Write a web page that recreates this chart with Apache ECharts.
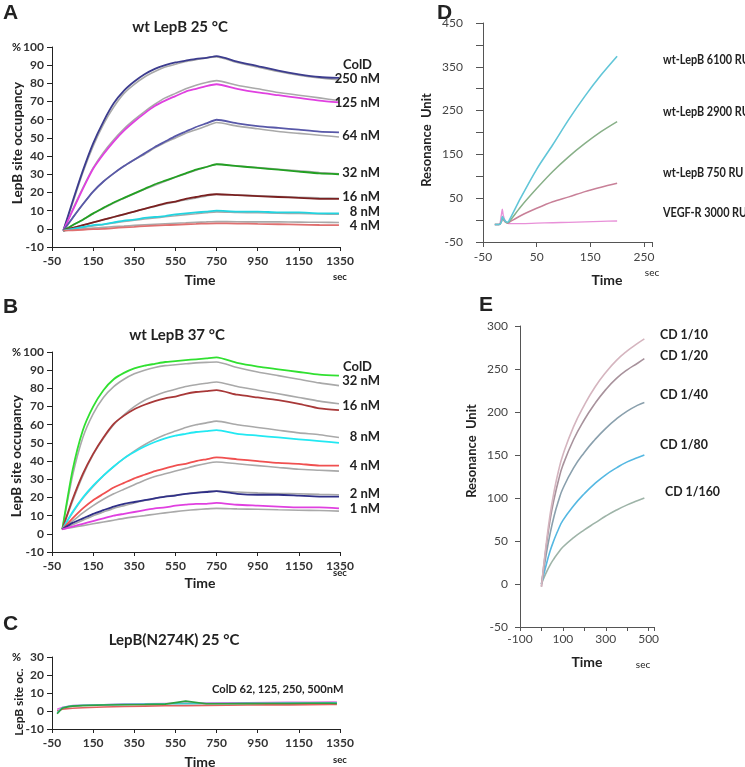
<!DOCTYPE html>
<html><head><meta charset="utf-8">
<script src="https://cdn.jsdelivr.net/npm/echarts@6/dist/echarts.min.js"></script>
<style>html,body{margin:0;padding:0;background:#fff}#c{width:745px;height:767px}</style>
</head><body><div id="c"></div>
<script>
// ---------- Panel A: wt LepB 25 °C ----------
const timesA = [5,50,100,150,200,250,300,350,400,450,500,550,600,650,700,750,850,950,1050,1150,1250,1345];
const a250    = [-1,15,32,47,59,69,76,81,85,88,90,91.5,92.5,93.5,94,95,92,89.5,87,85,83.5,83];
const a250fit = [-1,14,31,45.5,57.5,67,74.5,79.5,83.5,86.5,89,90.5,92,93,94,94.5,91.5,89,86.5,84.5,83,82];
const a125    = [-1,10,22,33,41,48,54,59,63.5,67.5,70.5,73,75.5,77,78.5,79.5,77,75,73.5,72,70.5,69.5];
const a125fit = [-1,10.5,22.5,33.5,42,49,55,60,64.5,68.5,72,74.5,77,79,80.5,81.5,79,77,75,73.5,72,70.5];
const a64     = [-1,6,13.5,20.5,26,30.5,34.5,38,41.5,45,48,51,53.5,56,58,60,58,56.5,55.5,54.5,53.5,53];
const a64fit  = [-1,6,13.5,20.5,26,30.5,34.5,38,41,44.5,47.5,50,52.5,54.5,56.5,58.5,56.5,55,53.5,52.5,51.5,50.5];
const a32     = [-1,2,5,8.5,11.5,14.5,17,19.5,22,24.5,26.5,28.5,30.5,32.5,34,35.5,34.5,33.5,32.5,31.5,30.5,30];
const a32fit  = [-1,2,5,8.3,11.3,14.2,16.8,19.3,21.7,24,26.2,28.3,30.3,32.2,34,35.5,34.6,33.7,32.8,31.9,31,30.3];
const a16     = [-1,0.5,2,3.5,5,6.5,8,9.5,11,12.5,14,15,16.5,17.5,18.5,19,18.5,18,17.5,17,16.5,16.5];
const a16fit  = [-1,0.5,2,3.5,5,6.5,8,9.5,11,12.3,13.6,14.8,16,17,18,19,18.6,18.2,17.8,17.4,17,16.8];
const a8      = [-1,0,1,2,2.5,3.5,4.5,5,6,6.5,7,8,8.5,9,9.5,10,9.5,9.5,9,9,8.5,8.5];
const a8fit   = [-1,0,0.8,1.6,2.4,3.2,4,4.7,5.4,6,6.6,7.2,7.8,8.3,8.8,9.3,9,8.8,8.6,8.4,8.2,8];
const a4      = [-1,-0.8,-0.5,-0.2,0,0.4,0.8,1.1,1.5,1.8,2,2.2,2.5,2.7,2.9,3,2.9,2.7,2.5,2.3,2.1,2];
const a4fit   = [-1,-0.5,0,0.4,0.8,1.2,1.5,1.9,2.2,2.5,2.8,3.1,3.3,3.6,3.8,4,3.9,3.8,3.8,3.7,3.6,3.5];
const labelsA = ['ColD','250 nM','125 nM','64 nM','32 nM','16 nM','8 nM','4 nM'];

// ---------- Panel B: wt LepB 37 °C ----------
const timesB = [0,50,100,150,200,250,300,350,400,450,500,550,600,650,700,750,850,950,1050,1150,1250,1345];
const b32    = [2.5,35,57,70,79,85,88.5,91,92.5,93.5,94.5,95,95.5,96,96.5,97,94,92,90.5,89,87.5,87];
const b32fit = [2.5,32,53,66,75,81,85,88,90,91.5,92.5,93,93.5,94,94.3,94.5,91.5,89,87,85,83,81.5];
const b16    = [2.5,19,33,44,53,60.5,65,68.5,71,73,74.5,75.5,77,78,78.5,79,76.5,75,73.5,71.5,69,68];
const b16fit = [2.5,18,32,43.5,52.5,60,65.5,70,73.5,76,78,79.5,81,82,82.8,83.5,81,79,77,75,73,71.5];
const b8     = [2.5,12,20,26.5,32,37,41.5,45,48,50.5,52.5,54,55,56,56.5,57,55,54,53,52,51,50];
const b8fit  = [2.5,11.5,19.5,26,32,37,41.5,45.5,49,52,54.5,56.5,58.5,60,61,62,60,58.5,57,55.5,54.5,53];
const b4     = [2.5,8.5,14,18.5,22,25.5,28,30.5,32.5,34.5,36,37.5,38.5,40,41,42,41,40,39,38.5,37.5,37.5];
const b4fit  = [2.5,7,11.5,15.5,19,22,24.5,27,29.5,31.5,33,34.5,36,37.5,38.7,39.5,38.5,37.5,36.5,35.5,35,34.5];
const b2     = [2.5,6,8.5,11,13,15,16.5,17.5,18.5,19.5,20.5,21,22,22.5,23,23.5,22,21.5,21.5,21,20.5,20.5];
const b2fit  = [2.5,5,7.5,10,12,14,15.5,17,18.3,19.5,20.5,21.3,22,22.7,23.2,23.5,23,22.5,22.2,22,21.7,21.5];
const b1     = [2.5,4,5.5,7,8.5,10,11,12,13,14,14.5,15.5,16,16.5,16.5,17,16,15.5,15,14.5,14.5,14];
const b1fit  = [2.5,3.5,4.5,5.5,6.5,7.5,8.5,9.3,10,10.8,11.5,12.2,12.8,13.3,13.7,14,13.7,13.5,13.2,13,12.8,12.5];
const labelsB = ['ColD','32 nM','16 nM','8 nM','4 nM','2 nM','1 nM'];

// ---------- Panel C: LepB(N274K) 25 °C ----------
const timesC = [-25,0,25,50,100,200,300,400,500,600,700,800,900,1000,1100,1200,1300,1335];
const c500 = [1,2,2.5,3,3.2,3.5,3.8,4,4.2,4.3,4.4,4.5,4.6,4.7,4.8,4.9,5,5];
const c250 = [-1.5,1.5,2.3,2.7,3,3.3,3.5,3.6,3.8,5.5,4,4,4.1,4.2,4.2,4.3,4.3,4.2];
const c125 = [0,1,1.3,1.5,1.8,2.2,2.5,2.7,2.9,3,3.1,3.2,3.3,3.4,3.4,3.5,3.6,3.6];
const c62  = [-1,1.8,2.5,2.9,3.2,3.5,3.7,3.9,4,4.1,4.2,4.2,4.3,4.3,4.4,4.4,4.5,4.5];
const labelC = 'ColD 62, 125, 250, 500nM';

// ---------- Panel D ----------
const timesD = [-28,-20,-16,-14,-12,-8,-4,0,20,50,80,110,140,170,200];
const d6100 = [-10,-10,-5,8,4,-3,-5,2,50,116,172,230,283,331,374];
const d2900 = [-10,-10,-5,6,3,-4,-6,-2,30,72,111,145,175,202,225];
const d750  = [-10,-10,-4,3,1,-5,-7,-4,10,27,42,53,65,75,84];
const dVegf = [-10,-10,10,25,10,-3,-7,-8,-8,-7,-6,-5,-4,-3,-2];
const labelsD = ['wt-LepB 6100 RU','wt-LepB 2900 RU','wt-LepB 750 RU','VEGF-R 3000 RU'];

// ---------- Panel E ----------
const timesE = [0,20,40,60,80,100,150,200,250,300,350,400,450,480];
const e10  = [-3,42,80,109,132,150,183,208,229,246,260,271,280,285];
const e20  = [-3,39,74,100,121,138,168,191,210,226,239,249,257,262];
const e40  = [0,31,58,80,97,111,135,153,168,181,192,201,208,211];
const e80  = [0,20,38,52,64,74,91,105,117,127,135,142,147,150];
const e160 = [0,12,22,30,37,43,54,63,71,79,86,92,97,100];
const labelsE = ['CD 1/10','CD 1/20','CD 1/40','CD 1/80','CD 1/160'];

// tick label lists
const ticksDx = [-50,50,150,250];
const ticksEx = [-100,100,300,500];

const chart = echarts.init(document.getElementById('c'), null, {renderer:'canvas'});
const pairs = (xs, ys) => xs.map((x,i)=>[x, ys[i]]);
function ln(xs, ys, color, width, gi, z, smooth){
  return {type:'line', data:pairs(xs,ys), xAxisIndex:gi, yAxisIndex:gi, showSymbol:false, symbol:'none',
    smooth: smooth===undefined ? 0.2 : smooth,
    lineStyle:{color, width}, itemStyle:{color}, z: z||2, animation:false, silent:true, clip:false};
}
const FONT = 'Lato';
const plain = v => String(v);
function axLabel(extra){ return Object.assign({fontFamily:FONT, fontWeight:'bold', fontSize:12, color:'#333', margin:8, formatter:plain}, extra||{}); }
const blk = {lineStyle:{color:'#222', width:1}};
function xAx(gi, min, max, interval, extra){
  return Object.assign({type:'value', gridIndex:gi, min, max, interval, axisLine:Object.assign({onZero:false}, blk),
    axisTick:{show:true, length:4, lineStyle:{color:'#222'}}, splitLine:{show:false}, axisLabel:axLabel()}, extra||{});
}
function yAx(gi, min, max, interval, extra){
  return Object.assign({type:'value', gridIndex:gi, min, max, interval, axisLine:Object.assign({onZero:false}, blk),
    axisTick:{show:true, length:5, lineStyle:{color:'#222'}}, splitLine:{show:false}, axisLabel:axLabel()}, extra||{});
}
function txt(text, x, y, o){
  o = o || {};
  const font = (o.weight||'bold') + ' ' + (o.size||13) + 'px ' + (o.family||FONT);
  return {type:'text', x, y, rotation:o.rot||0, scaleX:o.sx||1, silent:true, z:100,
    style:{text, fill:o.color||'#222', font, align:o.align||'left', textAlign:o.align||'left',
      verticalAlign:'middle', textVerticalAlign:'middle'}};
}

const grey = '#a9a9a9';
const series = [
  // A fits
  ln(timesA,a250fit,grey,1.6,0,1), ln(timesA,a125fit,grey,1.6,0,1), ln(timesA,a64fit,grey,1.6,0,1),
  ln(timesA,a32fit,grey,1.6,0,1), ln(timesA,a16fit,grey,1.6,0,1), ln(timesA,a8fit,grey,1.6,0,1), ln(timesA,a4fit,grey,1.6,0,1),
  // A data
  ln(timesA,a250,'#3c3c8e',1.8,0), ln(timesA,a125,'#e040e0',1.8,0), ln(timesA,a64,'#5858a8',1.8,0),
  ln(timesA,a32,'#22a022',1.8,0), ln(timesA,a16,'#7a2020',1.8,0), ln(timesA,a8,'#22d4e0',1.8,0), ln(timesA,a4,'#e07070',1.8,0),
  // B fits
  ln(timesB,b32fit,grey,1.6,1,1), ln(timesB,b16fit,grey,1.6,1,1), ln(timesB,b8fit,grey,1.6,1,1),
  ln(timesB,b4fit,grey,1.6,1,1), ln(timesB,b2fit,grey,1.6,1,1), ln(timesB,b1fit,grey,1.6,1,1),
  // B data
  ln(timesB,b32,'#30e030',1.8,1), ln(timesB,b16,'#a83838',1.8,1), ln(timesB,b8,'#22e8f2',1.8,1),
  ln(timesB,b4,'#f05050',1.8,1), ln(timesB,b2,'#303088',1.8,1), ln(timesB,b1,'#e040e0',1.8,1),
  // C
  ln(timesC,c125,'#e06060',1.6,2,2,0), ln(timesC,c500,'#e070e0',1.6,2,2,0), ln(timesC,c62,'#40c8c8',1.6,2,2,0), ln(timesC,c250,'#30a040',1.6,2,2,0),
  // D
  ln(timesD,dVegf,'#e890d8',1.3,3,2,0.3), ln(timesD,d750,'#c88098',1.5,3,2,0.3), ln(timesD,d2900,'#88b088',1.5,3,2,0.3), ln(timesD,d6100,'#62c6d8',1.6,3,2,0.3),
  // E
  ln(timesE,e160,'#9eb4a8',1.6,4,2,0.5), ln(timesE,e80,'#55b8e2',1.6,4,2,0.5), ln(timesE,e40,'#8aa0ad',1.6,4,2,0.5), ln(timesE,e20,'#a8929c',1.6,4,2,0.5), ln(timesE,e10,'#d5b5bf',1.6,4,2,0.5)
];

const g = [];
// panel letters
[['A',3,13],['B',3,307],['C',3,624],['D',437,13],['E',479,305]].forEach(p=>g.push(txt(p[0],p[1],p[2],{size:21,family:'Liberation Sans'})));
// titles
g.push(txt('wt LepB 25 °C',180,27,{size:15,align:'center'}));
g.push(txt('wt LepB 37 °C',177,335,{size:15,align:'center'}));
g.push(txt('LepB(N274K) 25 °C',174,640,{size:15,align:'center'}));
// y names
g.push(txt('LepB site occupancy',18,143,{size:13.5,align:'center',rot:Math.PI/2}));
g.push(txt('LepB site occupancy',17,456,{size:13.5,align:'center',rot:Math.PI/2}));
g.push(txt('LepB site oc.',19,702,{size:12,align:'center',rot:Math.PI/2}));
g.push(txt('Resonance  Unit',427,140,{size:13,align:'center',rot:Math.PI/2}));
g.push(txt('Resonance  Unit',472,451,{size:13,align:'center',rot:Math.PI/2}));
// % signs
[47,352,657].forEach(y=>g.push(txt('%',12,y,{size:11})));
// Time / sec
[[200,280,340,277],[200,583,340,573],[200,762,340,760]].forEach(p=>{
  g.push(txt('Time',p[0],p[1],{size:14,align:'center'}));
  g.push(txt('sec',p[2],p[3],{size:9.5,align:'center'}));
});
g.push(txt('Time',607,280,{size:14,align:'center'}));
g.push(txt('sec',652,273,{size:10,align:'center',weight:'normal'}));
g.push(txt('Time',587,662,{size:14,align:'center'}));
g.push(txt('sec',643,665,{size:10,align:'center',weight:'normal'}));
// legends A
const yA = [65,79,103,136,173,197,212,226];
labelsA.forEach((t,i)=>g.push(txt(t, i===0?372:380, yA[i], {size:13, align:'right'})));
const yB = [367,381,406,437,466,494,509];
labelsB.forEach((t,i)=>g.push(txt(t, i===0?372:380, yB[i], {size:13, align:'right'})));
g.push(txt(labelC,212,689,{size:12,sx:0.93}));
const yD = [60,112,173,213];
labelsD.forEach((t,i)=>g.push(txt(t,663,yD[i],{size:12.5,sx:0.87})));
const yE = [335,356,395,445,492]; const xE=[660,660,660,660,665];
labelsE.forEach((t,i)=>g.push(txt(t,xE[i],yE[i],{size:13,sx:0.95})));

const grayAx = {lineStyle:{color:'#555', width:1}};
const option = {
  animation:false,
  backgroundColor:'#fff',
  grid:[
    {left:52, top:47, width:288, height:200},
    {left:52, top:352, width:288, height:200},
    {left:52, top:657, width:288, height:72},
    {left:483, top:23, width:169, height:219},
    {left:520, top:326, width:134, height:301}
  ],
  xAxis:[
    xAx(0,-50,1350,200),
    xAx(1,-50,1350,200),
    xAx(2,-50,1350,200),
    xAx(3,-50,265,100,{axisLine:Object.assign({onZero:false},grayAx), axisTick:{length:5,lineStyle:{color:'#555'}},
      axisLabel:{fontFamily:FONT, fontSize:12, color:'#444', margin:9, formatter:v=>ticksDx.includes(v)?String(v):''}}),
    xAx(4,-100,525,100,{axisLine:Object.assign({onZero:false},grayAx), axisTick:{length:4,lineStyle:{color:'#555'}},
      axisLabel:{fontFamily:FONT, fontSize:12, color:'#444', margin:6, formatter:v=>ticksEx.includes(v)?String(v):''}})
  ],
  yAxis:[
    yAx(0,-10,100,10),
    yAx(1,-10,100,10),
    yAx(2,-10,30,10),
    yAx(3,-50,450,50,{axisLine:Object.assign({onZero:false},grayAx), axisTick:{length:7,lineStyle:{color:'#555'}},
      axisLabel:{fontFamily:FONT, fontSize:12, color:'#444', margin:20, formatter:v=>((v+50)%100===0)?String(v):''}}),
    yAx(4,-50,300,50,{axisLine:Object.assign({onZero:false},grayAx), axisTick:{length:5,lineStyle:{color:'#555'}},
      axisLabel:{fontFamily:FONT, fontSize:12, color:'#444', margin:12, formatter:plain}})
  ],
  series,
  graphic:{elements:g}
};
chart.setOption(option);
</script></body></html>
